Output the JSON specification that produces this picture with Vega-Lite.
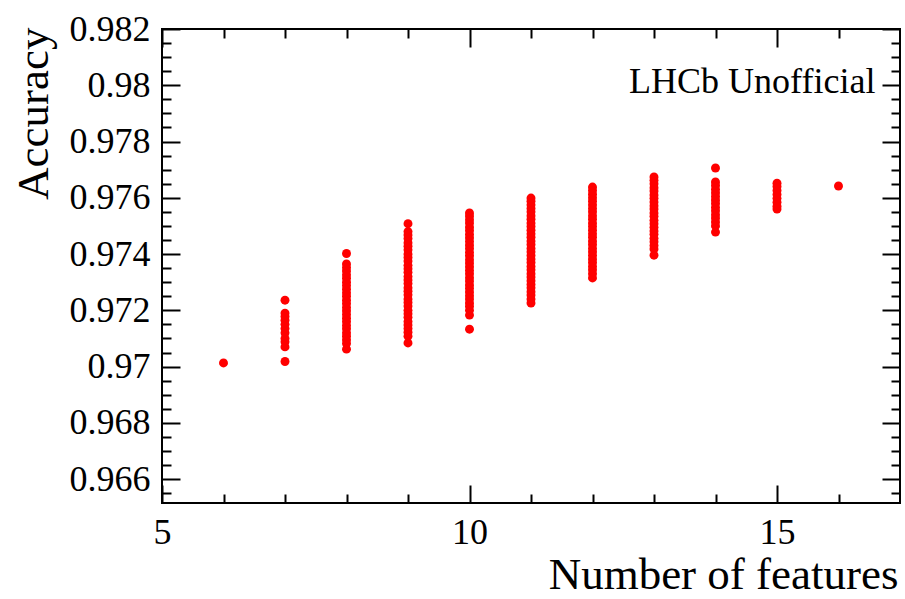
{
  "$schema": "https://vega.github.io/schema/vega-lite/v6.json",
  "width": 738,
  "height": 474,
  "autosize": {"type": "none"},
  "padding": {"left": 162, "top": 29, "right": 5, "bottom": 96},
  "background": "white",
  "config": {
    "font": "Liberation Serif",
    "view": {"stroke": "black", "strokeWidth": 2},
    "axis": {"grid": false, "domain": false, "labelFont": "Liberation Serif", "titleFont": "Liberation Serif", "labelColor": "black", "titleColor": "black", "tickColor": "black", "tickWidth": 2, "labelOverlap": false, "labelBound": false, "labelFlush": false}
  },
  "data": {"values": [
    {"n": 6, "acc": 0.97013},
    {"n": 7, "acc": 0.97236}, {"n": 7, "acc": 0.97190}, {"n": 7, "acc": 0.97178}, {"n": 7, "acc": 0.97165}, {"n": 7, "acc": 0.97150}, {"n": 7, "acc": 0.97135}, {"n": 7, "acc": 0.97120}, {"n": 7, "acc": 0.97100}, {"n": 7, "acc": 0.97088}, {"n": 7, "acc": 0.97070}, {"n": 7, "acc": 0.97018},
    {"n": 8, "acc": 0.97402}, {"n": 8, "acc": 0.97365}, {"n": 8, "acc": 0.97352}, {"n": 8, "acc": 0.97340}, {"n": 8, "acc": 0.97326}, {"n": 8, "acc": 0.97314}, {"n": 8, "acc": 0.97300}, {"n": 8, "acc": 0.97288}, {"n": 8, "acc": 0.97275}, {"n": 8, "acc": 0.97262}, {"n": 8, "acc": 0.97250}, {"n": 8, "acc": 0.97236}, {"n": 8, "acc": 0.97224}, {"n": 8, "acc": 0.97210}, {"n": 8, "acc": 0.97198}, {"n": 8, "acc": 0.97185}, {"n": 8, "acc": 0.97172}, {"n": 8, "acc": 0.97160}, {"n": 8, "acc": 0.97146}, {"n": 8, "acc": 0.97134}, {"n": 8, "acc": 0.97120}, {"n": 8, "acc": 0.97108}, {"n": 8, "acc": 0.97095}, {"n": 8, "acc": 0.97082}, {"n": 8, "acc": 0.97062},
    {"n": 9, "acc": 0.97508}, {"n": 9, "acc": 0.97480}, {"n": 9, "acc": 0.97468}, {"n": 9, "acc": 0.97455}, {"n": 9, "acc": 0.97440}, {"n": 9, "acc": 0.97428}, {"n": 9, "acc": 0.97415}, {"n": 9, "acc": 0.97400}, {"n": 9, "acc": 0.97388}, {"n": 9, "acc": 0.97375}, {"n": 9, "acc": 0.97360}, {"n": 9, "acc": 0.97348}, {"n": 9, "acc": 0.97335}, {"n": 9, "acc": 0.97320}, {"n": 9, "acc": 0.97308}, {"n": 9, "acc": 0.97295}, {"n": 9, "acc": 0.97280}, {"n": 9, "acc": 0.97268}, {"n": 9, "acc": 0.97255}, {"n": 9, "acc": 0.97240}, {"n": 9, "acc": 0.97228}, {"n": 9, "acc": 0.97215}, {"n": 9, "acc": 0.97200}, {"n": 9, "acc": 0.97188}, {"n": 9, "acc": 0.97175}, {"n": 9, "acc": 0.97160}, {"n": 9, "acc": 0.97148}, {"n": 9, "acc": 0.97135}, {"n": 9, "acc": 0.97122}, {"n": 9, "acc": 0.97108}, {"n": 9, "acc": 0.97084},
    {"n": 10, "acc": 0.97546}, {"n": 10, "acc": 0.97535}, {"n": 10, "acc": 0.97522}, {"n": 10, "acc": 0.97510}, {"n": 10, "acc": 0.97496}, {"n": 10, "acc": 0.97484}, {"n": 10, "acc": 0.97470}, {"n": 10, "acc": 0.97458}, {"n": 10, "acc": 0.97445}, {"n": 10, "acc": 0.97432}, {"n": 10, "acc": 0.97420}, {"n": 10, "acc": 0.97406}, {"n": 10, "acc": 0.97394}, {"n": 10, "acc": 0.97380}, {"n": 10, "acc": 0.97368}, {"n": 10, "acc": 0.97355}, {"n": 10, "acc": 0.97342}, {"n": 10, "acc": 0.97330}, {"n": 10, "acc": 0.97316}, {"n": 10, "acc": 0.97304}, {"n": 10, "acc": 0.97290}, {"n": 10, "acc": 0.97278}, {"n": 10, "acc": 0.97265}, {"n": 10, "acc": 0.97252}, {"n": 10, "acc": 0.97240}, {"n": 10, "acc": 0.97226}, {"n": 10, "acc": 0.97214}, {"n": 10, "acc": 0.97200}, {"n": 10, "acc": 0.97183}, {"n": 10, "acc": 0.97133},
    {"n": 11, "acc": 0.97599}, {"n": 11, "acc": 0.97588}, {"n": 11, "acc": 0.97575}, {"n": 11, "acc": 0.97562}, {"n": 11, "acc": 0.97550}, {"n": 11, "acc": 0.97536}, {"n": 11, "acc": 0.97524}, {"n": 11, "acc": 0.97510}, {"n": 11, "acc": 0.97498}, {"n": 11, "acc": 0.97485}, {"n": 11, "acc": 0.97472}, {"n": 11, "acc": 0.97460}, {"n": 11, "acc": 0.97446}, {"n": 11, "acc": 0.97434}, {"n": 11, "acc": 0.97420}, {"n": 11, "acc": 0.97408}, {"n": 11, "acc": 0.97395}, {"n": 11, "acc": 0.97382}, {"n": 11, "acc": 0.97370}, {"n": 11, "acc": 0.97356}, {"n": 11, "acc": 0.97344}, {"n": 11, "acc": 0.97330}, {"n": 11, "acc": 0.97318}, {"n": 11, "acc": 0.97305}, {"n": 11, "acc": 0.97292}, {"n": 11, "acc": 0.97280}, {"n": 11, "acc": 0.97266}, {"n": 11, "acc": 0.97254}, {"n": 11, "acc": 0.97240}, {"n": 11, "acc": 0.97226},
    {"n": 12, "acc": 0.97638}, {"n": 12, "acc": 0.97626}, {"n": 12, "acc": 0.97613}, {"n": 12, "acc": 0.97600}, {"n": 12, "acc": 0.97588}, {"n": 12, "acc": 0.97575}, {"n": 12, "acc": 0.97562}, {"n": 12, "acc": 0.97550}, {"n": 12, "acc": 0.97536}, {"n": 12, "acc": 0.97524}, {"n": 12, "acc": 0.97510}, {"n": 12, "acc": 0.97498}, {"n": 12, "acc": 0.97485}, {"n": 12, "acc": 0.97472}, {"n": 12, "acc": 0.97460}, {"n": 12, "acc": 0.97446}, {"n": 12, "acc": 0.97434}, {"n": 12, "acc": 0.97420}, {"n": 12, "acc": 0.97408}, {"n": 12, "acc": 0.97395}, {"n": 12, "acc": 0.97382}, {"n": 12, "acc": 0.97370}, {"n": 12, "acc": 0.97356}, {"n": 12, "acc": 0.97344}, {"n": 12, "acc": 0.97330}, {"n": 12, "acc": 0.97315},
    {"n": 13, "acc": 0.97674}, {"n": 13, "acc": 0.97662}, {"n": 13, "acc": 0.97650}, {"n": 13, "acc": 0.97636}, {"n": 13, "acc": 0.97624}, {"n": 13, "acc": 0.97610}, {"n": 13, "acc": 0.97598}, {"n": 13, "acc": 0.97585}, {"n": 13, "acc": 0.97572}, {"n": 13, "acc": 0.97560}, {"n": 13, "acc": 0.97546}, {"n": 13, "acc": 0.97534}, {"n": 13, "acc": 0.97520}, {"n": 13, "acc": 0.97508}, {"n": 13, "acc": 0.97495}, {"n": 13, "acc": 0.97482}, {"n": 13, "acc": 0.97470}, {"n": 13, "acc": 0.97456}, {"n": 13, "acc": 0.97444}, {"n": 13, "acc": 0.97430}, {"n": 13, "acc": 0.97418}, {"n": 13, "acc": 0.97396},
    {"n": 14, "acc": 0.97706}, {"n": 14, "acc": 0.97656}, {"n": 14, "acc": 0.97644}, {"n": 14, "acc": 0.97630}, {"n": 14, "acc": 0.97618}, {"n": 14, "acc": 0.97605}, {"n": 14, "acc": 0.97592}, {"n": 14, "acc": 0.97580}, {"n": 14, "acc": 0.97566}, {"n": 14, "acc": 0.97554}, {"n": 14, "acc": 0.97540}, {"n": 14, "acc": 0.97528}, {"n": 14, "acc": 0.97514}, {"n": 14, "acc": 0.97500}, {"n": 14, "acc": 0.97478},
    {"n": 15, "acc": 0.97652}, {"n": 15, "acc": 0.97640}, {"n": 15, "acc": 0.97626}, {"n": 15, "acc": 0.97612}, {"n": 15, "acc": 0.97598}, {"n": 15, "acc": 0.97584}, {"n": 15, "acc": 0.97570}, {"n": 15, "acc": 0.97560},
    {"n": 16, "acc": 0.97642}
  ]},
  "layer": [
    {
      "mark": {"type": "circle", "color": "#ff0000", "opacity": 1, "size": 80},
      "encoding": {
        "x": {"field": "n", "type": "quantitative", "scale": {"domain": [5, 17], "nice": false, "zero": false},
          "axis": {"orient": "bottom", "values": [5, 10, 15], "ticks": false, "labelFont": "Liberation Serif", "labelFontSize": 36, "labelPadding": 40, "labelBaseline": "alphabetic",
            "title": "Number of features", "titleFont": "Liberation Serif", "titleFontSize": 45, "titleFontWeight": "normal", "titleAlign": "right", "titleBaseline": "alphabetic", "titleX": 736, "titleY": 85}},
        "y": {"field": "acc", "type": "quantitative", "scale": {"domain": [0.96515, 0.982], "nice": false, "zero": false},
          "axis": {"orient": "left", "values": [0.966, 0.968, 0.97, 0.972, 0.974, 0.976, 0.978, 0.98, 0.982], "format": ".3~f", "ticks": false, "labelFont": "Liberation Serif", "labelFontSize": 36, "labelPadding": 12, "labelBaseline": "middle",
            "title": "Accuracy", "titleFont": "Liberation Serif", "titleFontSize": 45, "titleFontWeight": "normal", "titleAngle": -90, "titleAlign": "right", "titleBaseline": "alphabetic", "titleX": -115, "titleY": -2}}
      }
    },
    {
      "mark": {"type": "circle", "opacity": 0},
      "encoding": {
        "x": {"field": "n", "type": "quantitative", "scale": {"domain": [5, 17], "nice": false, "zero": false},
          "axis": {"orient": "bottom", "values": [5, 10, 15], "labels": false, "title": null, "tickSize": -18}},
        "y": {"field": "acc", "type": "quantitative", "scale": {"domain": [0.96515, 0.982], "nice": false, "zero": false},
          "axis": {"orient": "left", "values": [0.966, 0.968, 0.97, 0.972, 0.974, 0.976, 0.978, 0.98, 0.982], "labels": false, "title": null, "tickSize": -18}}
      }
    },
    {
      "mark": {"type": "circle", "opacity": 0},
      "encoding": {
        "x": {"field": "n", "type": "quantitative", "scale": {"domain": [5, 17], "nice": false, "zero": false},
          "axis": {"orient": "bottom", "values": [6, 7, 8, 9, 11, 12, 13, 14, 16], "labels": false, "title": null, "tickSize": -9}},
        "y": {"field": "acc", "type": "quantitative", "scale": {"domain": [0.96515, 0.982], "nice": false, "zero": false},
          "axis": {"orient": "left", "values": [0.9655, 0.9665, 0.9675, 0.9685, 0.9695, 0.9705, 0.9715, 0.9725, 0.9735, 0.9745, 0.9755, 0.9765, 0.9775, 0.9785, 0.9795, 0.9805, 0.9815, 0.967, 0.969, 0.971, 0.973, 0.975, 0.977, 0.979, 0.981], "labels": false, "title": null, "tickSize": -9}}
      }
    },
    {
      "mark": {"type": "circle", "opacity": 0},
      "encoding": {
        "x": {"field": "n", "type": "quantitative", "scale": {"domain": [5, 17], "nice": false, "zero": false},
          "axis": {"orient": "top", "values": [5, 10, 15], "labels": false, "title": null, "tickSize": -18}},
        "y": {"field": "acc", "type": "quantitative", "scale": {"domain": [0.96515, 0.982], "nice": false, "zero": false},
          "axis": {"orient": "right", "values": [0.966, 0.968, 0.97, 0.972, 0.974, 0.976, 0.978, 0.98, 0.982], "labels": false, "title": null, "tickSize": -18}}
      }
    },
    {
      "mark": {"type": "circle", "opacity": 0},
      "encoding": {
        "x": {"field": "n", "type": "quantitative", "scale": {"domain": [5, 17], "nice": false, "zero": false},
          "axis": {"orient": "top", "values": [6, 7, 8, 9, 11, 12, 13, 14, 16], "labels": false, "title": null, "tickSize": -9}},
        "y": {"field": "acc", "type": "quantitative", "scale": {"domain": [0.96515, 0.982], "nice": false, "zero": false},
          "axis": {"orient": "right", "values": [0.9655, 0.9665, 0.9675, 0.9685, 0.9695, 0.9705, 0.9715, 0.9725, 0.9735, 0.9745, 0.9755, 0.9765, 0.9775, 0.9785, 0.9795, 0.9805, 0.9815, 0.967, 0.969, 0.971, 0.973, 0.975, 0.977, 0.979, 0.981], "labels": false, "title": null, "tickSize": -9}}
      }
    },
    {
      "data": {"values": [{"label": "LHCb Unofficial"}]},
      "mark": {"type": "text", "font": "Liberation Serif", "fontSize": 36, "align": "right", "baseline": "alphabetic", "color": "black"},
      "encoding": {
        "text": {"field": "label", "type": "nominal"},
        "x": {"datum": 16.6, "type": "quantitative", "axis": null},
        "y": {"datum": 0.97972, "type": "quantitative", "axis": null}
      }
    }
  ],
  "resolve": {"axis": {"x": "independent", "y": "independent"}}
}
